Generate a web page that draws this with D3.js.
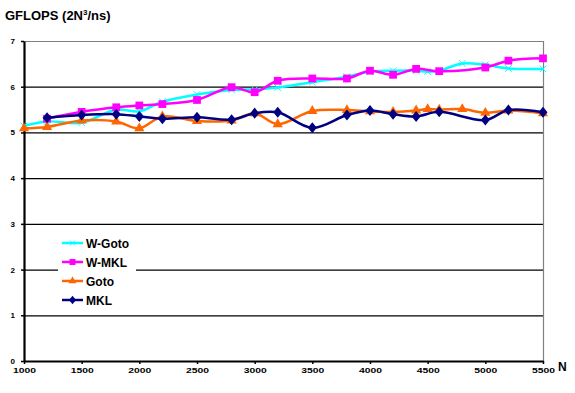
<!DOCTYPE html>
<html>
<head>
<meta charset="utf-8">
<script src="https://cdn.jsdelivr.net/npm/d3@7"></script>
<style>
  body { margin: 0; background: #fff; }
  text { font-family: "Liberation Sans", Arial, sans-serif; font-weight: bold; }
</style>
</head>
<body>
<svg id="chart" width="575" height="393"></svg>
<script>
// problem sizes N (shared by all series, null = no point)
var sizes = [1000, 1200, 1500, 1800, 2000, 2200, 2500, 2800, 3000, 3200, 3500,
             3800, 4000, 4200, 4400, 4500, 4600, 4800, 5000, 5200, 5500];

var wGoto = [5.14, 5.24, 5.21, 5.50, 5.46, 5.67, 5.83, 5.93, 5.94, 5.98, 6.10,
             6.22, 6.33, 6.35, 6.35, 6.33, 6.35, 6.51, 6.48, 6.40, 6.39];
var wMkl  = [null, 5.30, 5.45, 5.55, 5.59, 5.62, 5.71, 5.99, 5.88, 6.13, 6.18,
             6.18, 6.35, 6.26, 6.39, null, 6.34, null, 6.42, 6.57, 6.62];
var goto  = [5.09, 5.12, 5.26, 5.24, 5.09, 5.35, 5.25, 5.26, 5.42, 5.18, 5.47,
             5.49, 5.46, 5.45, 5.48, 5.51, 5.50, 5.51, 5.43, 5.48, 5.42];
var mkl   = [null, 5.32, 5.38, 5.40, 5.35, 5.30, 5.33, 5.28, 5.42, 5.44, 5.10,
             5.38, 5.48, 5.40, 5.35, null, 5.45, null, 5.27, 5.49, 5.44];

var seriesNames = ["W-Goto", "W-MKL", "Goto", "MKL"];
var xTicks = [1000, 1500, 2000, 2500, 3000, 3500, 4000, 4500, 5000, 5500];
var yTicks = [0, 1, 2, 3, 4, 5, 6, 7];

//=============================================================

var series = [
  { name: seriesNames[0], values: wGoto, color: "#00ffff", marker: "x" },
  { name: seriesNames[1], values: wMkl,  color: "#ff00ff", marker: "square" },
  { name: seriesNames[2], values: goto,  color: "#ff6600", marker: "triangle" },
  { name: seriesNames[3], values: mkl,   color: "#000080", marker: "diamond" }
];

var vis = d3.select("#chart");

var L = 24, R = 543, T = 41, B = 361;

var xScale = d3.scaleLinear().domain([1000, 5500]).range([L, R]);
var yScale = d3.scaleLinear().domain([0, 7]).range([B, T]);

// gridlines
vis.append("g").selectAll("line")
    .data(yTicks.filter(function(d) { return d > 0; }))
    .enter().append("line")
    .attr("x1", L).attr("x2", R)
    .attr("y1", function(d) { return yScale(d) + 0.5; })
    .attr("y2", function(d) { return yScale(d) + 0.5; })
    .attr("stroke", function(d) { return d == 7 ? "#808080" : "#000"; })
    .attr("stroke-width", 1.2);

// plot area right border
vis.append("line")
    .attr("x1", R + 0.5).attr("x2", R + 0.5)
    .attr("y1", yScale(7)).attr("y2", B)
    .attr("stroke", "#808080").attr("stroke-width", 1.2);

// axes
var xAxis = d3.axisBottom(xScale).tickValues(xTicks).tickFormat(d3.format("d"))
    .tickSize(3).tickSizeOuter(0).tickPadding(4);
var yAxis = d3.axisLeft(yScale).tickValues(yTicks).tickFormat(d3.format("d"))
    .tickSize(3).tickSizeOuter(0).tickPadding(6);

var gx = vis.append("g")
    .attr("transform", "translate(0," + B + ")")
    .call(xAxis);
var gy = vis.append("g")
    .attr("transform", "translate(" + L + ",0)")
    .call(yAxis);

[gx, gy].forEach(function(g) {
  g.select(".domain").attr("stroke", "#000").attr("stroke-width", 2.2);
  g.selectAll(".tick line").attr("stroke", "#000").attr("stroke-width", 1.5);
  g.selectAll(".tick text")
      .attr("fill", "#000")
      .style("font-family", "'Liberation Sans', Arial, sans-serif")
      .style("font-weight", "bold");
});
gx.selectAll(".tick text")
    .style("font-size", "7px")
    .attr("textLength", 23)
    .attr("lengthAdjust", "spacingAndGlyphs");
gy.selectAll(".tick text").style("font-size", "8px");

// lines
var lineGen = d3.line()
    .x(function(p) { return xScale(p[0]); })
    .y(function(p) { return yScale(p[1]); })
    .curve(d3.curveCatmullRom.alpha(0.5));

var symbolFor = {
  x: d3.symbolTimes,
  square: d3.symbolSquare,
  triangle: d3.symbolTriangle,
  diamond: d3.symbolSquare
};
var sizeFor = { x: 30, square: 60, triangle: 45, diamond: 50 };
var extraTransform = { x: "", square: "", triangle: "", diamond: " scale(0.9,1.1) rotate(45)" };

series.forEach(function(s) {
  var pts = [];
  for (var i = 0; i < sizes.length; i++)
    if (s.values[i] != null) pts.push([sizes[i], s.values[i]]);

  vis.append("path")
      .attr("d", lineGen(pts))
      .attr("fill", "none")
      .attr("stroke", s.color)
      .attr("stroke-width", 2.5);

  var sym = d3.symbol().type(symbolFor[s.marker]).size(sizeFor[s.marker]);
  vis.append("g").selectAll("path")
      .data(pts)
      .enter().append("path")
      .attr("transform", function(p) {
        return "translate(" + xScale(p[0]) + "," + yScale(p[1]) + ")" + extraTransform[s.marker];
      })
      .attr("d", sym())
      .attr("fill", s.marker == "x" ? "none" : s.color)
      .attr("stroke", s.color)
      .attr("stroke-width", s.marker == "x" ? 1 : 0);
});

// legend
var leg = vis.append("g").attr("transform", "translate(58,232)");
leg.append("rect").attr("width", 78).attr("height", 78).attr("fill", "#fff");
series.forEach(function(s, i) {
  var y = 11 + i * 19;
  leg.append("line")
      .attr("x1", 4).attr("x2", 25).attr("y1", y).attr("y2", y)
      .attr("stroke", s.color).attr("stroke-width", 2.5);
  leg.append("path")
      .attr("transform", "translate(14.5," + y + ")" + extraTransform[s.marker])
      .attr("d", d3.symbol().type(symbolFor[s.marker]).size(sizeFor[s.marker] * 0.6)())
      .attr("fill", s.marker == "x" ? "none" : s.color)
      .attr("stroke", s.color)
      .attr("stroke-width", s.marker == "x" ? 1 : 0);
  leg.append("text")
      .attr("x", 28).attr("y", y + 4.5)
      .style("font-size", "12px")
      .text(s.name);
});

// titles
var title = vis.append("text").attr("x", 5).attr("y", 20).style("font-size", "13px");
title.append("tspan").text("GFLOPS (2N");
title.append("tspan").attr("dy", -5).style("font-size", "8px").text("3");
title.append("tspan").attr("dy", 5).text("/ns)");

vis.append("text").attr("x", 558).attr("y", 371).style("font-size", "12px").text("N");
</script>
</body>
</html>
